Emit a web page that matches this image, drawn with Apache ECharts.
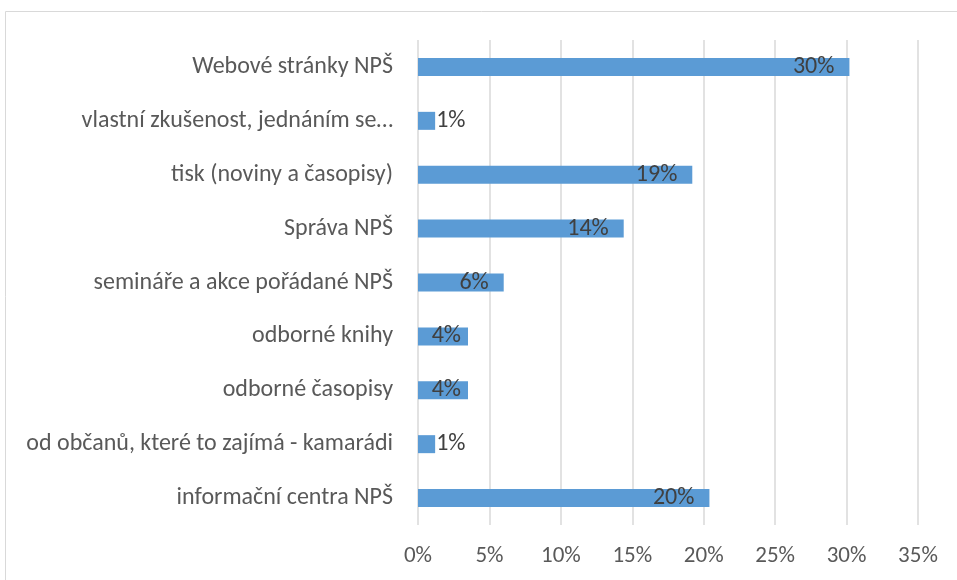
<!DOCTYPE html>
<html>
<head>
<meta charset="utf-8">
<script src="https://cdn.jsdelivr.net/npm/echarts@6/dist/echarts.min.js"></script>
<style>
  html, body { margin: 0; padding: 0; background: #fff; }
  #chart { width: 957px; height: 580px; }
</style>
</head>
<body>
<div id="chart"></div>
<script type="text/javascript">
// kategorie odspodu nahoru (jako v Excelu)
var categories = [
  'informační centra NPŠ',
  'od občanů, které to zajímá - kamarádi',
  'odborné časopisy',
  'odborné knihy',
  'semináře a akce pořádané NPŠ',
  'Správa NPŠ',
  'tisk (noviny a časopisy)',
  'vlastní zkušenost, jednáním se…',
  'Webové stránky NPŠ'
];
var values = [20.4, 1.2, 3.5, 3.5, 6.0, 14.4, 19.2, 1.2, 30.2];
var tickValues = [0, 5, 10, 15, 20, 25, 30, 35];

var FONT = 'Carlito, Lato, sans-serif';
var myChart = echarts.init(document.getElementById('chart'));

var barData = values.map(function (v) {
  var lbl;
  if (v < 2) {
    lbl = { position: 'right', distance: 1 };
  } else if (v < 5) {
    lbl = { position: 'insideRight', distance: 7 };
  } else {
    lbl = { position: 'insideRight', distance: 15 };
  }
  return { value: v, label: lbl };
});

var option = {
  animation: false,
  graphic: [{
    type: 'rect',
    shape: { x: 5.5, y: 11.5, width: 1000, height: 1000 },
    style: { fill: 'none', stroke: '#d9d9d9', lineWidth: 1 }
  }],
  grid: { left: 418, right: 39, top: 40, bottom: 55 },
  xAxis: {
    type: 'value',
    min: tickValues[0],
    max: tickValues[tickValues.length - 1],
    interval: 5,
    axisLine: { show: false },
    axisTick: { show: false },
    splitLine: { lineStyle: { color: '#d9d9d9', width: 1.5 } },
    axisLabel: {
      margin: 20,
      color: '#595959',
      fontFamily: FONT,
      fontSize: 23
    ,
      formatter: function (v) { return v + '%'; }
    }
  },
  yAxis: {
    type: 'category',
    data: categories,
    axisLine: { show: false },
    axisTick: { show: false },
    axisLabel: {
      margin: 25,
      color: '#595959',
      fontFamily: FONT,
      fontSize: 24
    }
  },
  series: [{
    type: 'bar',
    data: barData,
    barWidth: 18,
    itemStyle: { color: '#5b9bd5' },
    label: {
      show: true,
      color: '#404040',
      fontFamily: FONT,
      fontSize: 24,
      formatter: function (p) { return Math.round(p.value) + '%'; }
    }
  }]
};

myChart.setOption(option);
</script>
</body>
</html>
